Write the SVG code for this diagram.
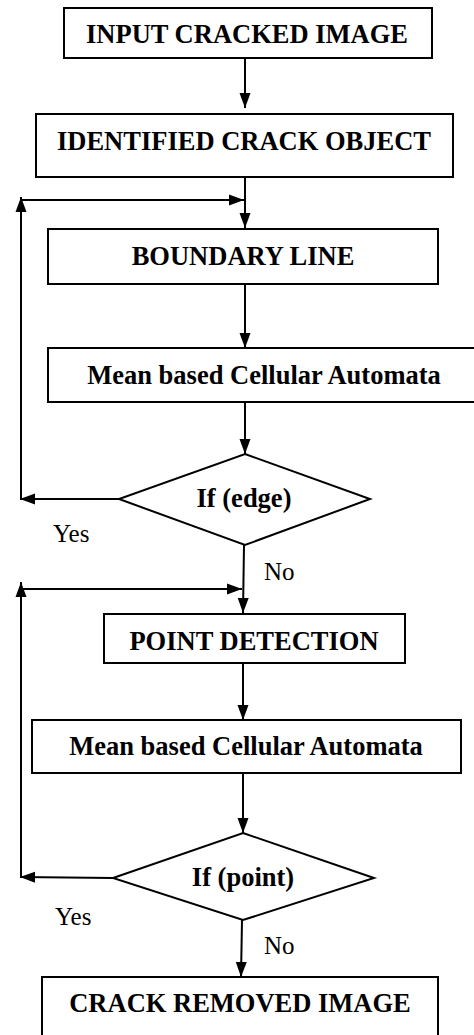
<svg xmlns="http://www.w3.org/2000/svg" width="474" height="1035" viewBox="0 0 474 1035">
<style>
.box{fill:#fff;stroke:#000;stroke-width:2}
.lbl{font-family:'Liberation Serif','Times New Roman',serif;font-weight:bold;font-size:26.5px;text-anchor:middle;fill:#000}
.yn{font-family:'Liberation Serif','Times New Roman',serif;font-size:25px;fill:#000}
.ln{fill:none;stroke:#000;stroke-width:2}
</style>
<defs>
<marker id="ah" markerUnits="userSpaceOnUse" markerWidth="15" markerHeight="12" refX="15" refY="6" orient="auto">
<path d="M0,0.5 L15,6 L0,11.5 z" fill="#000"/>
</marker>
</defs>
<rect width="474" height="1035" fill="#fff"/>
<g id="connectors">
<line class="ln" x1="245" y1="58" x2="245" y2="108" marker-end="url(#ah)"/>
<line class="ln" x1="245" y1="177" x2="245" y2="228" marker-end="url(#ah)"/>
<line class="ln" x1="245" y1="284" x2="245" y2="348" marker-end="url(#ah)"/>
<line class="ln" x1="245" y1="402" x2="245" y2="454" marker-end="url(#ah)"/>
<line class="ln" x1="119" y1="499" x2="20" y2="499" marker-end="url(#ah)"/>
<line class="ln" x1="21" y1="499" x2="21" y2="197" marker-end="url(#ah)"/>
<line class="ln" x1="21" y1="200" x2="244" y2="200" marker-end="url(#ah)"/>
<line class="ln" x1="244" y1="545" x2="243" y2="613" marker-end="url(#ah)"/>
<line class="ln" x1="21" y1="589" x2="242" y2="589" marker-end="url(#ah)"/>
<line class="ln" x1="243" y1="663" x2="243" y2="720" marker-end="url(#ah)"/>
<line class="ln" x1="243" y1="773" x2="243" y2="833" marker-end="url(#ah)"/>
<line class="ln" x1="113" y1="878" x2="20" y2="877" marker-end="url(#ah)"/>
<line class="ln" x1="21" y1="877" x2="21" y2="582" marker-end="url(#ah)"/>
<line class="ln" x1="242" y1="920" x2="241" y2="977" marker-end="url(#ah)"/>
<text class="yn" x="53" y="542">Yes</text>
<text class="yn" x="264" y="580">No</text>
<text class="yn" x="55" y="925">Yes</text>
<text class="yn" x="264" y="954">No</text>
</g>
<g id="n1">
<rect class="box" x="64" y="8" width="368" height="50"/>
<text class="lbl" x="247" y="43">INPUT CRACKED IMAGE</text>
</g>
<g id="n2">
<rect class="box" x="36" y="114" width="417" height="63"/>
<text class="lbl" x="244" y="150">IDENTIFIED CRACK OBJECT</text>
</g>
<g id="n3">
<rect class="box" x="48" y="229" width="390" height="55"/>
<text class="lbl" x="243" y="265">BOUNDARY LINE</text>
</g>
<g id="n4">
<rect class="box" x="48" y="348" width="440" height="54"/>
<text class="lbl" x="264" y="384">Mean based Cellular Automata</text>
</g>
<g id="n5">
<polygon class="box" points="245,454 370,499 245,545 119,499"/>
<text class="lbl" x="244" y="507">If (edge)</text>
</g>
<g id="n6">
<rect class="box" x="104" y="614" width="301" height="49"/>
<text class="lbl" x="254" y="650">POINT DETECTION</text>
</g>
<g id="n7">
<rect class="box" x="32" y="720" width="429" height="53"/>
<text class="lbl" x="246" y="755">Mean based Cellular Automata</text>
</g>
<g id="n8">
<polygon class="box" points="243,833 374,878 243,920 113,878"/>
<text class="lbl" x="243" y="886">If (point)</text>
</g>
<g id="n9">
<rect class="box" x="42" y="977" width="396" height="70"/>
<text class="lbl" x="240" y="1012">CRACK REMOVED IMAGE</text>
</g>
</svg>
